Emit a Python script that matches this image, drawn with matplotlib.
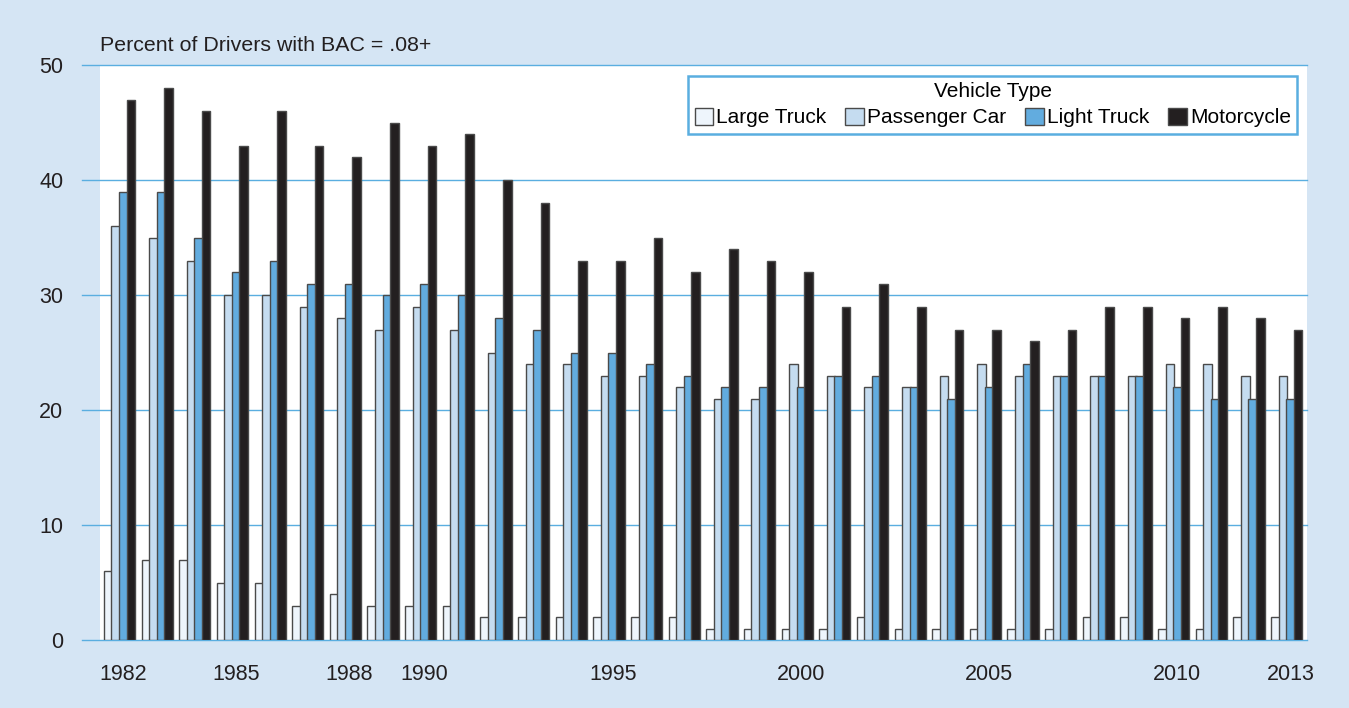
import matplotlib.pyplot as plt
import numpy as np

plt.rcParams['font.family'] = ['Liberation Sans', 'DejaVu Sans']

# Data
years = list(range(1982, 2014))
large_truck = [6, 7, 7, 5, 5, 3, 4, 3, 3, 3, 2, 2, 2, 2, 2, 2,
               1, 1, 1, 1, 2, 1, 1, 1, 1, 1, 2, 2, 1, 1, 2, 2]
passenger_car = [36, 35, 33, 30, 30, 29, 28, 27, 29, 27, 25, 24, 24, 23, 23, 22,
                 21, 21, 24, 23, 22, 22, 23, 24, 23, 23, 23, 23, 24, 24, 23, 23]
light_truck = [39, 39, 35, 32, 33, 31, 31, 30, 31, 30, 28, 27, 25, 25, 24, 23,
               22, 22, 22, 23, 23, 22, 21, 22, 24, 23, 23, 23, 22, 21, 21, 21]
motorcycle = [47, 48, 46, 43, 46, 43, 42, 45, 43, 44, 40, 38, 33, 33, 35, 32,
              34, 33, 32, 29, 31, 29, 27, 27, 26, 27, 29, 29, 28, 29, 28, 27]
labeled_years = [1982, 1985, 1988, 1990, 1995, 2000, 2005, 2010, 2013]

series = [
    ('Large Truck', large_truck, '#eef5fc'),
    ('Passenger Car', passenger_car, '#c5dcf0'),
    ('Light Truck', light_truck, '#62acdf'),
    ('Motorcycle', motorcycle, '#231f20'),
]

bg = '#d5e5f4'
grid_col = '#5aaee0'
txt = '#231f20'

fig = plt.figure(figsize=(13.49, 7.08), dpi=100, facecolor=bg)
ax = fig.add_axes([0.0741, 0.096, 0.895, 0.812])
ax.set_facecolor('white')

x = np.arange(len(years))
bar_w = 0.23
step = 0.2
for i, (name, vals, col) in enumerate(series):
    ax.bar(x + (i - 1.5) * step, vals, bar_w, color=col,
           edgecolor='#4a4a4a', linewidth=1.0, label=name, zorder=3)

ax.set_xlim(-0.52, 31.55)
ax.set_ylim(0, 50)

# gridlines extend slightly left of the white plot area
for yv in range(0, 51, 10):
    ax.plot([-0.015, 1], [yv / 50, yv / 50], transform=ax.transAxes,
            color=grid_col, lw=1.0, clip_on=False, zorder=1)

for s in ax.spines.values():
    s.set_visible(False)

ax.set_yticks(range(0, 51, 10))
ax.tick_params(axis='y', length=0, pad=26.5, labelsize=15.5, colors=txt)
ax.set_xticks([years.index(yy) + 0.1 for yy in labeled_years])
ax.set_xticklabels([str(yy) for yy in labeled_years])
ax.tick_params(axis='x', length=0, pad=17, labelsize=15.5, colors=txt)

fig.text(0.0741, 0.928, 'Percent of Drivers with BAC = .08+', fontsize=15.4,
         color=txt, ha='left', va='baseline')

leg = ax.legend(ncol=4, title='Vehicle Type', loc='upper right',
                bbox_to_anchor=(0.9917, 0.981), fontsize=15,
                title_fontsize=15, frameon=True, fancybox=False,
                handlelength=0.9, handleheight=0.9, handletextpad=0.15,
                columnspacing=0.9, borderpad=0.3, labelspacing=0.3,
                borderaxespad=0)
leg.get_frame().set_edgecolor(grid_col)
leg.get_frame().set_linewidth(1.8)
leg.get_frame().set_facecolor('white')
leg.get_frame().set_alpha(1)
leg.set_zorder(5)

fig.savefig('out.png', dpi=100, facecolor=bg)
